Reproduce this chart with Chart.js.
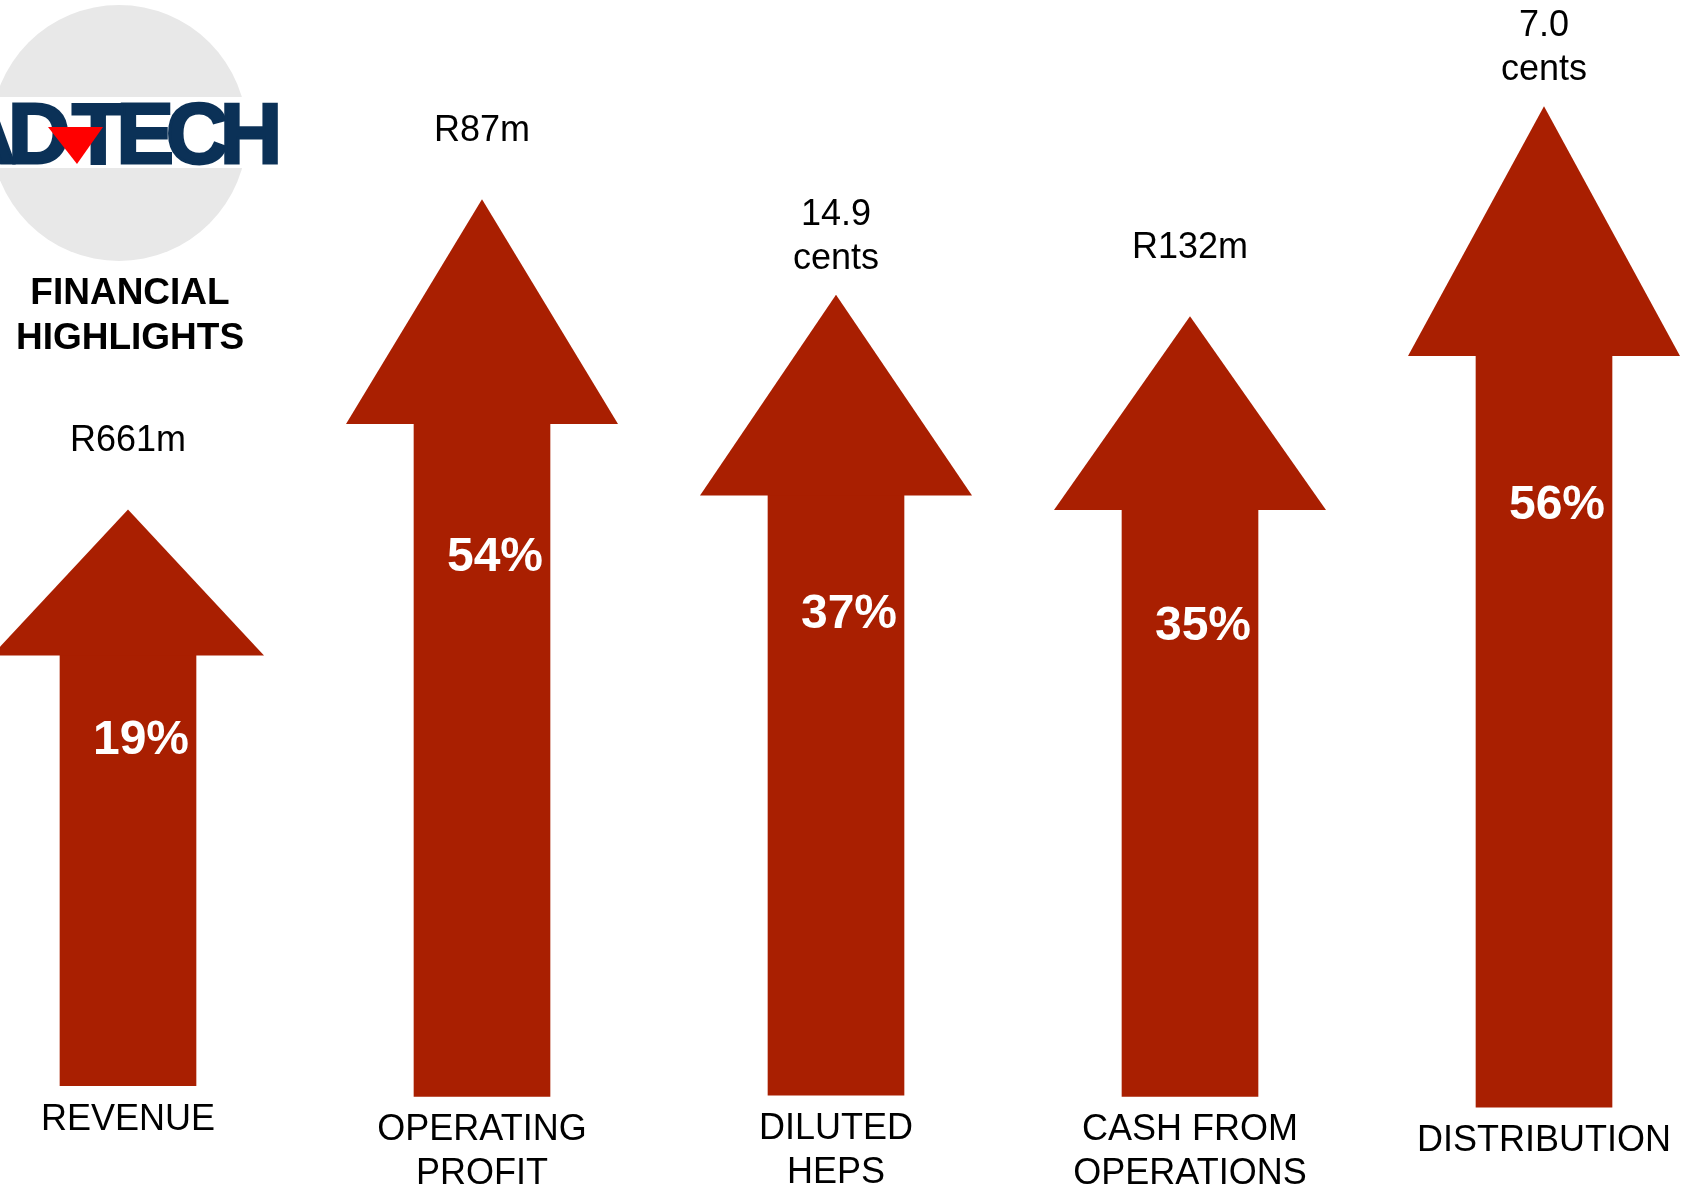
<!DOCTYPE html>
<html>
<head>
<meta charset="utf-8">
<title>Financial Highlights</title>
<script src="https://cdn.jsdelivr.net/npm/chart.js@4.4.1/dist/chart.umd.min.js"></script>
<style>
  html, body { margin: 0; padding: 0; background: #ffffff; }
  #wrap { position: relative; width: 1703px; height: 1193px; }
</style>
</head>
<body>
<div id="wrap"><canvas id="highlightsChart"></canvas></div>
<script>
// Highlight categories (multi-line captions under each arrow)
const categories = [['REVENUE'], ['OPERATING', 'PROFIT'], ['DILUTED', 'HEPS'], ['CASH FROM', 'OPERATIONS'], ['DISTRIBUTION']];
// Year-on-year growth, printed inside each arrow
const growth = [19, 54, 37, 35, 56];
// Headline figure printed above each arrow
const headlines = [['R661m'], ['R87m'], ['14.9', 'cents'], ['R132m'], ['7.0', 'cents']];
// Arrow geometry on the hidden 0-100 value axis
const shaftBottom = [9.0, 8.1, 8.2, 8.1, 7.2];
const shaftTop = [45.1, 64.5, 58.5, 57.3, 70.2];
const arrowTip = [57.3, 83.3, 75.3, 73.5, 91.1];

const ARROW_RED = '#a91f01';
const FONT = '"Liberation Sans", Arial, Helvetica, sans-serif';

/**
 * Logo disc and page heading in the top-left corner
 */
const logoPlugin = {
    id: 'logo',
    beforeDraw(chart) {
        const ctx = chart.ctx;
        ctx.save();
        // grey disc
        ctx.fillStyle = '#e8e8e8';
        ctx.beginPath();
        ctx.arc(119, 133, 128, 0, Math.PI * 2);
        ctx.fill();
        // white band behind the wordmark
        ctx.fillStyle = '#ffffff';
        ctx.fillRect(0, 97, 274, 71);
        // wordmark, heavy and tightly spaced
        ctx.fillStyle = '#0b3157';
        ctx.strokeStyle = '#0b3157';
        ctx.lineWidth = 3;
        ctx.lineJoin = 'miter';
        ctx.font = 'bold 86px ' + FONT;
        ctx.letterSpacing = '-8px';
        ctx.textBaseline = 'alphabetic';
        ctx.textAlign = 'left';
        ctx.fillText('TECH', 72, 163);
        ctx.strokeText('TECH', 72, 163);
        ctx.textAlign = 'right';
        ctx.fillText('AD', 62, 163);
        ctx.strokeText('AD', 62, 163);
        ctx.letterSpacing = '0px';
        // red triangle between D and T
        ctx.fillStyle = '#ff0000';
        ctx.beginPath();
        ctx.moveTo(48, 127);
        ctx.lineTo(103, 127);
        ctx.lineTo(77, 164);
        ctx.closePath();
        ctx.fill();
        // heading
        ctx.fillStyle = '#000000';
        ctx.font = 'bold 37px ' + FONT;
        ctx.textAlign = 'center';
        ctx.textBaseline = 'middle';
        ctx.fillText('FINANCIAL', 130, 294);
        ctx.fillText('HIGHLIGHTS', 130, 339);
        ctx.restore();
    }
};

/**
 * Arrow heads, growth figures and captions drawn on top of the bar shafts
 */
const arrowPlugin = {
    id: 'arrowHeads',
    afterDatasetsDraw(chart, args, opts) {
        const ctx = chart.ctx;
        const y = chart.scales.y;
        const meta = chart.getDatasetMeta(0);
        ctx.save();
        meta.data.forEach((bar, i) => {
            const baseY = y.getPixelForValue(shaftTop[i]);
            const tipY = y.getPixelForValue(arrowTip[i]);
            const bottomY = y.getPixelForValue(shaftBottom[i]);

            // head
            ctx.fillStyle = opts.color;
            ctx.beginPath();
            ctx.moveTo(bar.x - opts.headHalfWidth, baseY + 0.5);
            ctx.lineTo(bar.x + opts.headHalfWidth, baseY + 0.5);
            ctx.lineTo(bar.x, tipY);
            ctx.closePath();
            ctx.fill();

            ctx.textAlign = 'center';

            // headline figure above the tip
            const lines = headlines[i];
            const gap = lines.length > 1 ? 26 : 58;
            ctx.fillStyle = '#000000';
            ctx.font = '36px ' + FONT;
            ctx.textBaseline = 'alphabetic';
            lines.forEach((line, k) => {
                ctx.fillText(line, bar.x, tipY - gap - (lines.length - 1 - k) * 44);
            });

            // growth inside the shaft, four fifths of the way up
            ctx.fillStyle = '#ffffff';
            ctx.font = 'bold 48px ' + FONT;
            ctx.textBaseline = 'middle';
            ctx.fillText(growth[i] + '%', bar.x + 13, bottomY + 0.8 * (baseY - bottomY));

            // caption under the shaft
            ctx.fillStyle = '#000000';
            ctx.font = '36px ' + FONT;
            categories[i].forEach((line, k) => {
                ctx.fillText(line, bar.x, bottomY + 34 + k * 44);
            });
        });
        ctx.restore();
    }
};

document.addEventListener('DOMContentLoaded', function() {
    const ctx = document.getElementById('highlightsChart');

    new Chart(ctx, {
        type: 'bar',
        data: {
            labels: categories,
            datasets: [{
                label: 'Growth',
                data: shaftBottom.map((b, i) => [b, shaftTop[i]]),
                backgroundColor: ARROW_RED,
                borderWidth: 0,
                barThickness: 136,
                clip: false
            }]
        },
        options: {
            responsive: true,
            maintainAspectRatio: false,
            animation: false,
            layout: {
                padding: { left: 128, right: 159, top: 0, bottom: 0 }
            },
            plugins: {
                legend: { display: false },
                tooltip: { enabled: false },
                arrowHeads: { color: ARROW_RED, headHalfWidth: 136 }
            },
            scales: {
                x: {
                    type: 'category',
                    display: false,
                    offset: false,
                    grid: { display: false }
                },
                y: {
                    display: false,
                    min: 0,
                    max: 100
                }
            }
        },
        plugins: [logoPlugin, arrowPlugin]
    });
});
</script>
</body>
</html>
